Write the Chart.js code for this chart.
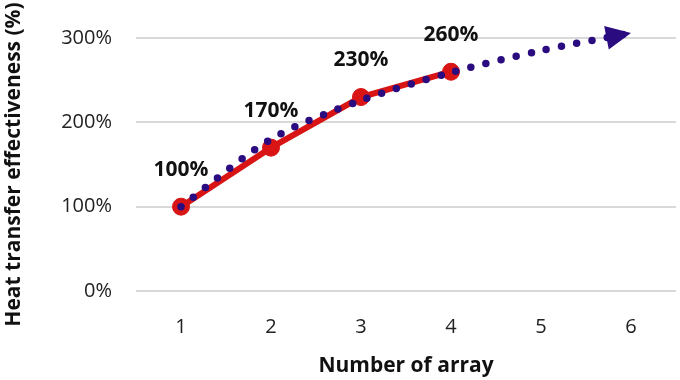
<!DOCTYPE html>
<html><head><meta charset="utf-8">
<script src="https://cdn.jsdelivr.net/npm/chart.js@4/dist/chart.umd.min.js"></script>
<style>html,body{margin:0;padding:0;background:#fff}#wrap{width:680px;height:380px}</style>
</head><body><div id="wrap"><canvas id="c" width="680" height="380"></canvas></div>
<script>
const categories = ['1','2','3','4','5','6'];
const measured = [100, 170, 230, 260, null, null];
const trend = [100, 180, 226, 259, 285, 306];
const labelTexts = ['100%','170%','230%','260%'];
const yTicks = [0, 100, 200, 300];

const FONT = '"Open Sans", sans-serif';
const RED = '#d81414';
const PURPLE = '#2a0c80';

// keep large markers from shrinking the plot area (layout only)
Chart.registry.getController('line').prototype.getMaxOverflow = function () { return 0; };

const labelPlugin = {
  id: 'vals',
  afterDatasetsDraw(chart) {
    const ctx = chart.ctx;
    const meta = chart.getDatasetMeta(1);
    ctx.save();
    ctx.font = 'bold 21px ' + FONT;
    ctx.fillStyle = '#111';
    ctx.textAlign = 'center';
    ctx.textBaseline = 'middle';
    labelTexts.forEach((t, i) => {
      const el = meta.data[i];
      ctx.fillText(t, el.x, el.y - 37);
    });
    const tm = chart.getDatasetMeta(0).data;
    const a = tm[tm.length - 2], b = tm[tm.length - 1];
    const ang = Math.atan2(b.y - a.y, b.x - a.x);
    const L = 25, W = 12;
    ctx.translate(b.x, b.y);
    ctx.rotate(ang);
    ctx.fillStyle = PURPLE;
    ctx.beginPath();
    ctx.moveTo(0, 0);
    ctx.lineTo(-L, -W);
    ctx.lineTo(-L, W);
    ctx.closePath();
    ctx.fill();
    ctx.restore();
  }
};

new Chart(document.getElementById('c'), {
  type: 'line',
  data: {
    labels: categories,
    datasets: [
      {
        data: trend,
        borderColor: PURPLE,
        borderWidth: 7.5,
        borderDash: [0, 15.5],
        borderCapStyle: 'round',
        pointRadius: 0,
        tension: 0.3,
        clip: false,
        order: 0
      },
      {
        data: measured,
        borderColor: RED,
        backgroundColor: RED,
        borderWidth: 6,
        pointRadius: 8.5,
        pointBackgroundColor: RED,
        pointBorderColor: RED,
        pointBorderWidth: 1,
        tension: 0,
        clip: false,
        order: 1
      }
    ]
  },
  options: {
    responsive: false,
    animation: false,
    devicePixelRatio: 1,
    layout: { padding: { left: 0, right: 4, top: 38, bottom: 0 } },
    plugins: { legend: { display: false }, tooltip: { enabled: false } },
    scales: {
      x: {
        offset: true,
        grid: { display: true, drawOnChartArea: false, drawTicks: true, tickLength: 24, color: 'rgba(0,0,0,0)' },
        border: { display: false },
        ticks: { color: '#222', font: { family: FONT, size: 20 }, padding: 0 },
        title: { display: true, text: 'Number of array', color: '#111',
                 font: { family: FONT, size: 21, weight: 'bold' }, padding: { top: 0, bottom: 1 } },
        afterFit(s) { s.height = 89; s.paddingLeft = 0; s.paddingRight = 0; }
      },
      y: {
        min: 0, max: 300,
        afterBuildTicks(s) { s.ticks = yTicks.map(v => ({ value: v })); },
        grid: { color: '#d9d9d9', lineWidth: 2, drawTicks: false },
        border: { display: false },
        ticks: { color: '#222', font: { family: FONT, size: 20 }, padding: 24,
                 callback: v => v + '%' },
        title: { display: true, text: 'Heat transfer effectiveness (%)', color: '#111',
                 font: { family: FONT, size: 21, weight: 'bold' }, padding: { top: 1, bottom: 0 } },
        afterFit(s) { s.width = 136; s.paddingTop = 0; s.paddingBottom = 0; }
      }
    }
  },
  plugins: [labelPlugin]
});
</script>
</body></html>
